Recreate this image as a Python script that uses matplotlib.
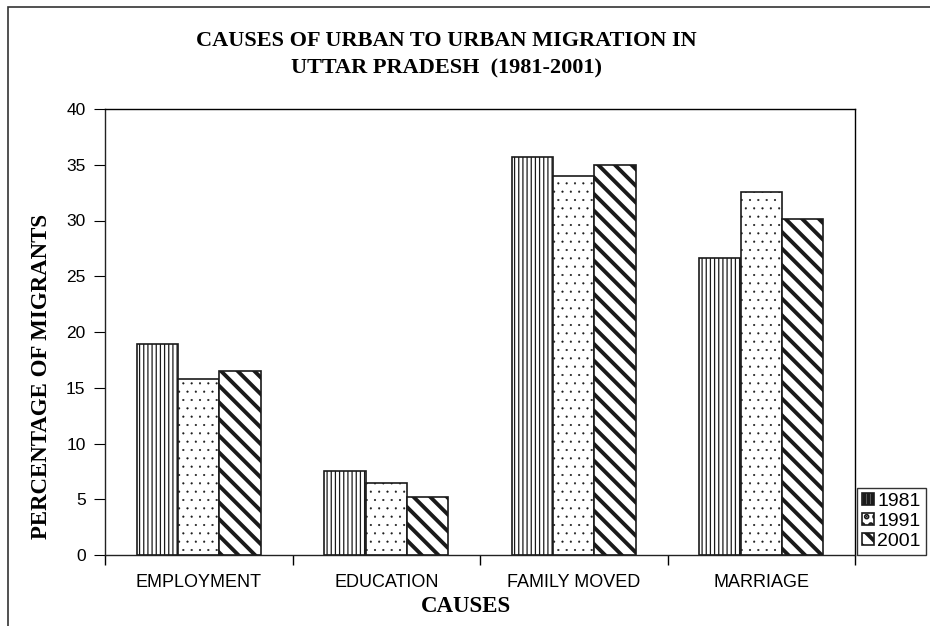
import matplotlib.pyplot as plt
import matplotlib.patches as mpatches
import numpy as np

causes = ['EMPLOYMENT', 'EDUCATION', 'FAMILY MOVED', 'MARRIAGE']
years = ['1981', '1991', '2001']
v1981 = [18.9, 7.5, 35.7, 26.6]
v1991 = [15.8, 6.5, 34.0, 32.6]
v2001 = [16.5, 5.2, 35.0, 30.1]

plt.rcParams['font.family'] = 'Liberation Sans'
plt.rcParams['hatch.color'] = 'black'

fig = plt.figure(figsize=(9.3, 6.26), dpi=100)
ax = fig.add_axes([105/930, 71/626, 750/930, 446/626])

x = np.arange(len(causes))
w = 0.22
edge = '#1a1a1a'

# hatch linewidth is taken when each bar is made
plt.rcParams['hatch.linewidth'] = 0.9
b1 = ax.bar(x - w, v1981, w, color='white', edgecolor=edge, linewidth=1.2, hatch='||||')
plt.rcParams['hatch.linewidth'] = 0.3
b2 = ax.bar(x, v1991, w, color='white', edgecolor=edge, linewidth=1.2, hatch='..')
plt.rcParams['hatch.linewidth'] = 2.8
b3 = ax.bar(x + w, v2001, w, color='white', edgecolor=edge, linewidth=1.2, hatch='\\\\')

ax.set_xlim(-0.5, 3.5)
ax.set_ylim(0, 40)
ax.set_yticks(range(0, 41, 5))
ax.set_xticks(x)
ax.set_xticklabels(causes, fontsize=13)
ax.set_xticks(np.arange(-0.5, 4, 1), minor=True)
ax.tick_params(axis='x', which='major', length=0, pad=14)
ax.tick_params(axis='x', which='minor', length=7, direction='out', width=1)
ax.tick_params(axis='y', length=8, direction='out', labelsize=12.5, pad=6)
for s in ax.spines.values():
    s.set_linewidth(1.0)
ax.spines['left'].set_color('#222222')
ax.spines['bottom'].set_color('#222222')

fig.text(0.48, 0.913, 'CAUSES OF URBAN TO URBAN MIGRATION IN\nUTTAR PRADESH  (1981-2001)',
         ha='center', va='center', family='Liberation Serif', fontweight='bold',
         fontsize=16, linespacing=1.5)
ax.set_ylabel('PERCENTAGE OF MIGRANTS', family='Liberation Serif', fontweight='bold',
              fontsize=16.5)
ax.yaxis.set_label_coords(-0.071, 0.40)
fig.text(466/930, 1 - 607/626, 'CAUSES', ha='center', va='center',
         family='Liberation Serif', fontweight='bold', fontsize=16.5)

leg = fig.legend([b1, b2, b3], years, loc='upper left',
                 bbox_to_anchor=(857/930, 1 - 488/626), fontsize=14,
                 frameon=True, fancybox=False, edgecolor='black',
                 handlelength=0.6, handleheight=0.6, handletextpad=0.2,
                 labelspacing=0.15, borderpad=0.25, borderaxespad=0)
leg.get_frame().set_linewidth(1.0)

fig.patches.append(mpatches.Rectangle((8/930, -0.1), 921/930 - 8/930 + 0.05, 1.1 - 7/626,
                                      transform=fig.transFigure, fill=False,
                                      edgecolor='#333333', linewidth=1.2))

fig.savefig('out.png', dpi=100)
